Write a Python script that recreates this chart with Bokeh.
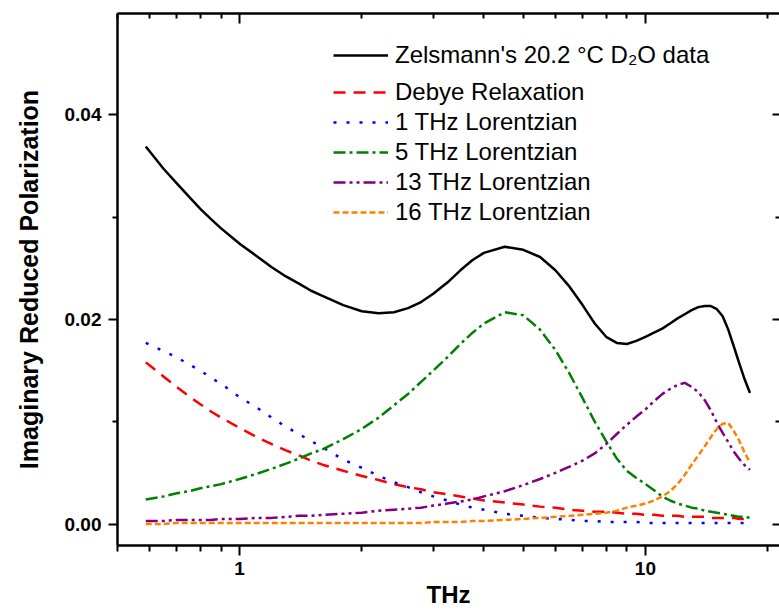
from bokeh.plotting import figure
from bokeh.models import (FixedTicker, PrintfTickFormatter, LogAxis, LinearAxis,
                          Legend, LegendItem)
from bokeh.embed import file_html
from bokeh.resources import INLINE

# Frequency grid (THz)
freq = [0.587, 0.65, 0.7, 0.75, 0.8, 0.85, 0.9,
        1.0, 1.1, 1.2, 1.3, 1.4, 1.5, 1.6,
        1.8, 2.0, 2.2, 2.4, 2.6, 2.8, 3.0,
        3.25, 3.5, 3.75, 4.0,
        4.5, 5.0, 5.5, 6.0, 6.5, 7.0, 7.5, 8.0, 8.5, 9.0, 9.5,
        10.0, 10.5, 11.0, 11.5, 12.0, 12.5, 13.0, 13.5, 14.0, 14.5, 15.0,
        15.5, 16.0, 16.5, 17.0, 17.5, 18.1]

# Measured imaginary reduced polarization (D2O, 20.2 C)
zelsmann = [0.0369, 0.0347, 0.0333, 0.0320, 0.0308, 0.0298, 0.0289,
            0.0274, 0.0262, 0.0251, 0.0242, 0.0235, 0.0228, 0.0223,
            0.0214, 0.0208, 0.0206, 0.0207, 0.0211, 0.0217, 0.0225,
            0.0236, 0.0248, 0.0258, 0.0265,
            0.0271, 0.0268, 0.0261, 0.0248, 0.0232, 0.0214, 0.0196, 0.0183,
            0.0177, 0.0176, 0.0179,
            0.0183, 0.0187, 0.0191, 0.0196, 0.0201, 0.0205, 0.0209, 0.0212,
            0.0213, 0.0213, 0.0210, 0.0203, 0.0190, 0.0174, 0.0158, 0.0143,
            0.0128]

# Fitted components
debye = [0.0158, 0.0144, 0.0134, 0.0125, 0.0117, 0.0110, 0.0104,
         0.0094, 0.0085, 0.0078, 0.0072, 0.0067, 0.0062, 0.0058,
         0.0052, 0.0047, 0.0043, 0.0039, 0.0036, 0.0034, 0.0031,
         0.0029, 0.0027, 0.0025, 0.0023,
         0.0021, 0.0019, 0.0017, 0.0016, 0.0014, 0.0013, 0.0012, 0.0012,
         0.0011, 0.0010, 0.0010,
         0.0009, 0.0009, 0.0008, 0.0008, 0.0008, 0.0007, 0.0007, 0.0007,
         0.0007, 0.0006, 0.0006, 0.0006, 0.0006, 0.0006, 0.0005, 0.0005,
         0.0005]
lor1 = [0.0177, 0.0169, 0.0163, 0.0156, 0.0150, 0.0143, 0.0137,
        0.0124, 0.0114, 0.0104, 0.0095, 0.0088, 0.0081, 0.0075,
        0.0063, 0.0055, 0.0047, 0.0041, 0.0036, 0.0031, 0.0027,
        0.0023, 0.0019, 0.0016, 0.0014,
        0.0010, 0.0008, 0.0006, 0.0005, 0.0004, 0.0003, 0.0003, 0.0002,
        0.0002, 0.0002, 0.0002,
        0.0001, 0.0001, 0.0001, 0.0001, 0.0001, 0.0001, 0.0001, 0.0001,
        0.0001, 0.0001, 0.0001, 0.0001, 0.0001, 0.0001, 0.0001, 0.0001,
        0.0001]
lor5 = [0.0024, 0.0027, 0.0030, 0.0032, 0.0035, 0.0037, 0.0039,
        0.0044, 0.0049, 0.0054, 0.0059, 0.0064, 0.0069, 0.0073,
        0.0083, 0.0093, 0.0104, 0.0116, 0.0127, 0.0139, 0.0150,
        0.0163, 0.0176, 0.0187, 0.0196,
        0.0207, 0.0204, 0.0190, 0.0170, 0.0147, 0.0123, 0.0100, 0.0081,
        0.0064, 0.0052, 0.0045,
        0.0039, 0.0033, 0.0027, 0.0023, 0.0020, 0.0018, 0.0016, 0.0015,
        0.0013, 0.0012, 0.0011, 0.0010, 0.0009, 0.0008, 0.0007, 0.0007,
        0.0006]
lor13 = [0.0003, 0.0003, 0.0004, 0.0004, 0.0004, 0.0004, 0.0005,
         0.0005, 0.0006, 0.0006, 0.0007, 0.0008, 0.0008, 0.0009,
         0.0010, 0.0011, 0.0013, 0.0014, 0.0015, 0.0016, 0.0018,
         0.0020, 0.0022, 0.0024, 0.0027,
         0.0032, 0.0038, 0.0044, 0.0050, 0.0056, 0.0062, 0.0069, 0.0078,
         0.0088, 0.0097, 0.0105,
         0.0112, 0.0120, 0.0127, 0.0132, 0.0136, 0.0138, 0.0134, 0.0129,
         0.0121, 0.0111, 0.0099, 0.0089, 0.0080, 0.0071, 0.0064, 0.0058,
         0.0053]
lor16 = [0.0000, 0.0000, 0.0001, 0.0001, 0.0001, 0.0001, 0.0001,
         0.0001, 0.0001, 0.0001, 0.0001, 0.0001, 0.0001, 0.0001,
         0.0001, 0.0001, 0.0001, 0.0001, 0.0001, 0.0001, 0.0002,
         0.0002, 0.0002, 0.0003, 0.0003,
         0.0004, 0.0005, 0.0006, 0.0007, 0.0008, 0.0009, 0.0010, 0.0011,
         0.0013, 0.0016, 0.0018,
         0.0020, 0.0023, 0.0027, 0.0032, 0.0039, 0.0048, 0.0058, 0.0067,
         0.0076, 0.0085, 0.0093, 0.0098, 0.0099, 0.0091, 0.0082, 0.0071,
         0.0060]

labels = ["Zelsmann's 20.2 \u00b0C D\u2082O data", "Debye Relaxation",
          "1 THz Lorentzian", "5 THz Lorentzian", "13 THz Lorentzian",
          "16 THz Lorentzian"]

x_major = [1, 10]
x_minor = [0.5, 0.6, 0.7, 0.8, 0.9, 2, 3, 4, 5, 6, 7, 8, 9, 20]
y_major = [0.0, 0.02, 0.04]
y_minor = [0.01, 0.03, 0.05]

FONT = "Liberation Sans"

p = figure(width=779, height=612, x_axis_type="log",
           x_range=(0.5, 21.4), y_range=(-0.0021, 0.0499),
           output_backend="svg", toolbar_location=None,
           min_border_left=117, min_border_right=0,
           min_border_top=13, min_border_bottom=67,
           background_fill_color="white", border_fill_color="white")
p.xgrid.visible = False
p.ygrid.visible = False
p.outline_line_color = None

xt = FixedTicker(ticks=x_major, minor_ticks=x_minor)
yt = FixedTicker(ticks=y_major, minor_ticks=y_minor)

xa = p.xaxis[0]
xa.ticker = xt
xa.formatter = PrintfTickFormatter(format="%d")
xa.axis_label = "THz"
ya = p.yaxis[0]
ya.ticker = yt
ya.formatter = PrintfTickFormatter(format="%.2f")
ya.axis_label = "Imaginary Reduced Polarization"

for ax in (xa, ya):
    ax.axis_line_width = 2.5
    ax.axis_line_color = "black"
    ax.major_tick_line_width = 2
    ax.minor_tick_line_width = 2
    ax.major_tick_in = 0
    ax.minor_tick_in = 0
    ax.major_label_text_font = FONT
    ax.major_label_text_font_style = "bold"
    ax.major_label_text_font_size = "19px"
    ax.major_label_text_color = "black"
    ax.axis_label_text_font = FONT
    ax.axis_label_text_font_style = "bold"
    ax.axis_label_text_color = "black"

xa.axis_label_text_font_size = "24px"
ya.axis_label_text_font_size = "25px"
xa.major_tick_out = 10
xa.minor_tick_out = 6
xa.major_label_standoff = 6
xa.axis_label_standoff = 3
ya.major_tick_out = 9
ya.minor_tick_out = 5
ya.major_label_standoff = 7
ya.axis_label_standoff = 19

# mirrored frame ticks pointing inward, without labels
top = LogAxis(ticker=xt, major_label_text_font_size="1px", major_label_text_alpha=0,
              major_label_standoff=0,
              major_tick_out=0, minor_tick_out=0, major_tick_in=10, minor_tick_in=5,
              major_tick_line_width=2, minor_tick_line_width=2,
              axis_line_width=2.5)
right = LinearAxis(ticker=yt, major_label_text_font_size="1px", major_label_text_alpha=0,
                   major_label_standoff=0, axis_line_color=None,
                   major_tick_out=0, minor_tick_out=0, major_tick_in=7, minor_tick_in=4,
                   major_tick_line_width=2, minor_tick_line_width=2)
p.add_layout(top, "above")
p.add_layout(right, "right")

styles = [
    dict(color="black", dash="solid", width=2.5),
    dict(color="#ff0000", dash="12 8", width=2.5),
    dict(color="#0000ff", dash="3 10", width=2.5),
    dict(color="#008000", dash="12 4 3 4", width=2.5),
    dict(color="#800080", dash="12 4 3 4 3 4", width=2.5),
    dict(color="#ff8000", dash="6 3", width=2.5),
]
series = [zelsmann, debye, lor1, lor5, lor13, lor16]

renderers = []
for ys, st in zip(series, styles):
    r = p.line(freq, ys, line_color=st["color"], line_dash=st["dash"],
               line_width=st["width"], line_join="round")
    renderers.append(r)


def make_legend(items, loc):
    return Legend(items=items, location=loc, padding=0, margin=0, spacing=0,
                  glyph_width=55, glyph_height=30, label_height=30,
                  label_standoff=7, label_text_font=FONT,
                  label_text_font_size="24px", label_text_color="black",
                  background_fill_alpha=0, border_line_alpha=0)


leg1 = make_legend([LegendItem(label=labels[0], renderers=[renderers[0]])], (216, 475))
leg2 = make_legend([LegendItem(label=l, renderers=[r])
                    for l, r in zip(labels[1:], renderers[1:])], (216, 318))
p.add_layout(leg1)
p.add_layout(leg2)

open("out.html", "w").write(file_html(p, INLINE))
